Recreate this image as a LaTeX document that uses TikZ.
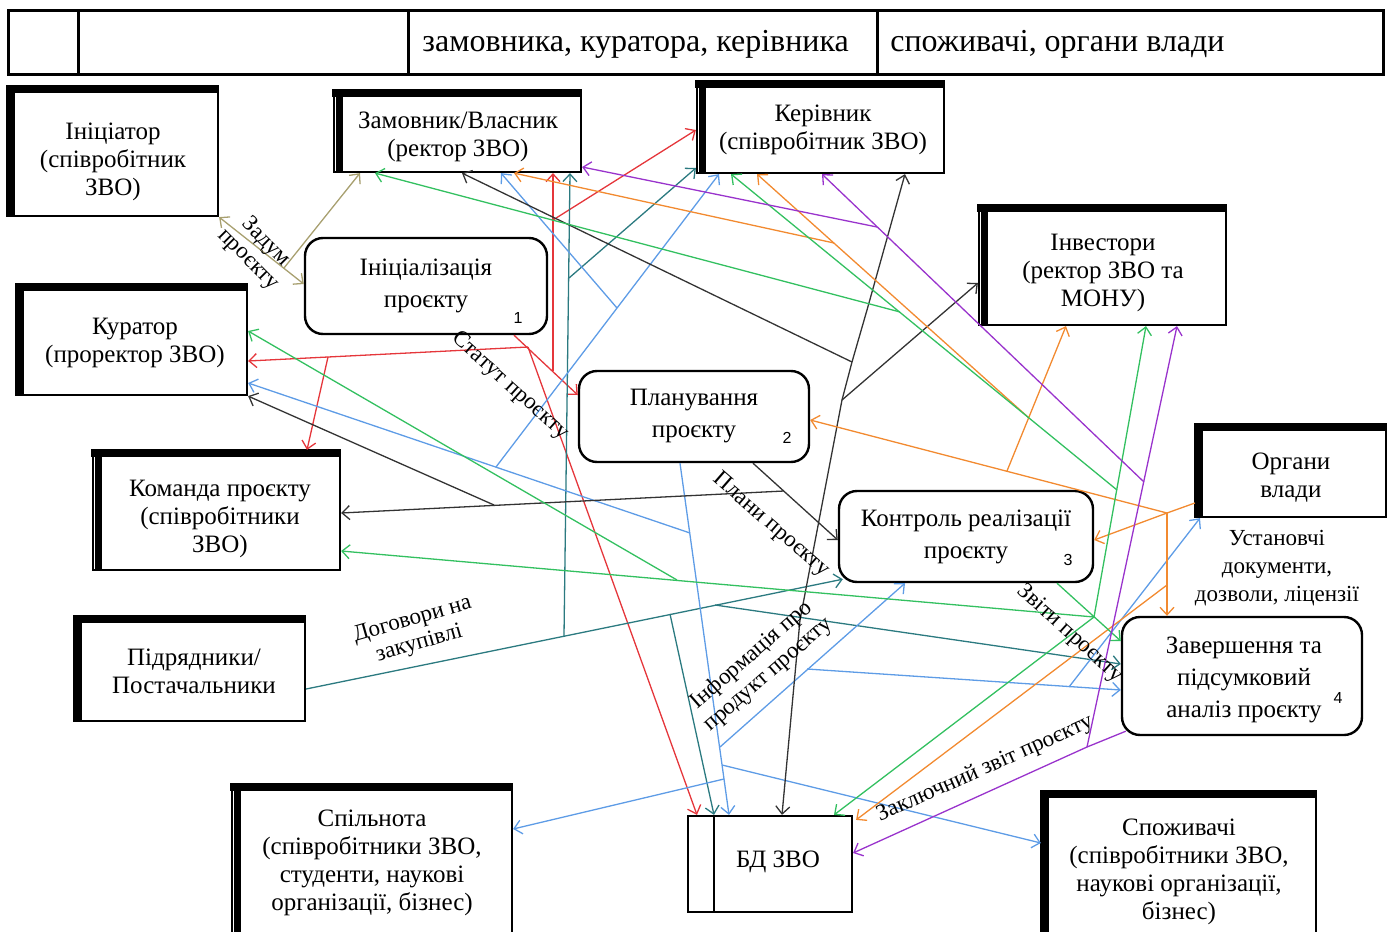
\documentclass[tikz,border=0pt]{standalone}
\usepackage{fontspec}
\setmainfont{Liberation Serif}
\newfontfamily\numfont{Liberation Sans}
\usetikzlibrary{arrows.meta,calc}
\definecolor{cOl}{HTML}{A8A070}
\definecolor{cRd}{HTML}{E5363B}
\definecolor{cTl}{HTML}{2B7A80}
\definecolor{cBl}{HTML}{5E9CE6}
\definecolor{cBk}{HTML}{333333}
\definecolor{cOr}{HTML}{F28A30}
\definecolor{cGr}{HTML}{33C060}
\definecolor{cPu}{HTML}{9933CC}
\newcommand\bxf{\fontsize{12.5}{14}\selectfont}
\newcommand\prf{\fontsize{12.5}{16}\selectfont}
\newcommand\lbf{\fontsize{11.5}{12.5}\selectfont}
% thick top and left bars of an external entity
\newcommand\entbar[1]{%
  \fill ([xshift=-0.5pt,yshift=0.5pt]#1.north west) rectangle ([xshift=4pt]#1.south west);
  \fill ([xshift=-0.5pt,yshift=0.5pt]#1.north west) rectangle ([yshift=-3.5pt]#1.north east);}
\newcommand\entdbar[1]{%
  \fill ([xshift=1.4pt]#1.north west) rectangle ([xshift=4.8pt]#1.south west);
  \fill ([xshift=-0.5pt,yshift=0.5pt]#1.north west) rectangle ([yshift=-3.5pt]#1.north east);}
\tikzset{
  ext/.style={draw, line width=1.1pt, fill=white, inner sep=0pt},
  etx/.style={font=\bxf, align=center, inner sep=0pt},
  proc/.style={draw, line width=1.2pt, rounded corners=9pt, fill=white, inner sep=0pt, align=center, font=\prf},
  num/.style={font=\numfont\fontsize{8}{9}\selectfont, inner sep=0pt},
  lbl/.style={font=\lbf, align=center, inner sep=0pt},
  cn/.style={line width=0.65pt},
  ar/.style={cn, -{Straight Barb[length=3.8pt,width=7pt]}},
  dar/.style={cn, {Straight Barb[length=3.8pt,width=7pt]}-{Straight Barb[length=3.8pt,width=7pt]}},
}
\begin{document}
\begin{tikzpicture}[x=0.5pt,y=-0.5pt]
\useasboundingbox (0,0) rectangle (1394,932);
% top table
\draw[line width=1.5pt] (8,10) rectangle (1383,74);
\draw[line width=1.5pt] (78,10) -- (78,74) (408,10) -- (408,74) (877,10) -- (877,74);
\node[anchor=west, font=\fontsize{16}{18}\selectfont, inner sep=0pt] (t1) at (422,44) {замовника, куратора, керівника};
\node[anchor=west, font=\fontsize{16}{18}\selectfont, inner sep=0pt] (t2) at (890,44) {споживачі, органи влади};

% external entities
\node[ext, minimum width=105pt, minimum height=64.5pt] (ini) at (113,151.5) {};
\node[ext, minimum width=123.5pt, minimum height=40.5pt] (zam) at (457.5,131.5) {};
\node[ext, minimum width=123.5pt, minimum height=45.5pt] (ker) at (820.5,127.5) {};
\node[ext, minimum width=123.5pt, minimum height=59.5pt] (inv) at (1102.5,265.5) {};
\node[ext, minimum width=115pt, minimum height=55pt] (kur) at (132,340) {};
\node[ext, minimum width=123.5pt, minimum height=59.5pt] (kom) at (216.5,510.5) {};
\node[ext, minimum width=115pt, minimum height=52pt] (pid) at (190,669) {};
\node[ext, minimum width=95pt, minimum height=46pt] (org) at (1291,471) {};
\node[ext, minimum width=140pt, minimum height=77.5pt] (spil) at (372,862.5) {};
\node[ext, minimum width=137pt, minimum height=74pt] (spoz) at (1179,866) {};
\entbar{ini} \entdbar{zam} \entdbar{ker} \entdbar{inv} \entbar{kur}
\entdbar{kom} \entbar{pid} \entbar{org} \entdbar{spil} \entbar{spoz}
\node[etx] (iniT) at (113,161.5) {Ініціатор\\(співробітник\\ЗВО)};
\node[etx] (zamT) at (458,137) {Замовник/Власник\\(ректор ЗВО)};
\node[etx] (kerT) at (823,129.5) {Керівник\\(співробітник ЗВО)};
\node[etx] (invT) at (1103,272.5) {Інвестори\\(ректор ЗВО та\\МОНУ)};
\node[etx] (kurT) at (135,343) {Куратор\\(проректор ЗВО)};
\node[etx] (komT) at (220,518.5) {Команда проєкту\\(співробітники\\ЗВО)};
\node[etx] (pidT) at (194,671) {Підрядники/\\Постачальники};
\node[etx] (orgT) at (1291,478) {Органи\\влади};
\node[etx] (spilT) at (372,863) {Спільнота\\(співробітники ЗВО,\\студенти, наукові\\організації, бізнес)};
\node[etx] (spozT) at (1179,872) {Споживачі\\(співробітники ЗВО,\\наукові організації,\\бізнес)};
\node[draw, line width=1.1pt, fill=white, minimum width=82pt, minimum height=48pt, inner sep=0pt] (bd) at (770,864) {};
\draw[line width=1.1pt] (714,0 |- bd.north) -- (714,0 |- bd.south);
\node[etx] (bdT) at (778,862) {БД ЗВО};

% processes
\node[proc, minimum width=121pt, minimum height=48pt] (p1) at (426,286) {Ініціалізація\\проєкту};
\node[proc, minimum width=115pt, minimum height=45.5pt] (p2) at (694,416.5) {Планування\\проєкту};
\node[proc, minimum width=127pt, minimum height=45.5pt] (p3) at (966,536.5) {Контроль реалізації\\проєкту};
\node[proc, minimum width=120pt, minimum height=59pt] (p4) at (1242,676) {};
\node[etx, font=\prf] (p4T) at (1244,680) {Завершення та\\підсумковий\\аналіз проєкту};
\node[num] (n1) at (518,318) {1};
\node[num] (n2) at (787,438) {2};
\node[num] (n3) at (1068,560) {3};
\node[num] (n4) at (1338,698) {4};

% olive
\coordinate (oJ) at (284,268);
\draw[dar, cOl] (ini.south east) -- (p1.west |- 0,284);
\draw[ar, cOl] (oJ) -- (360,0 |- zam.south);

% red
\coordinate (rA) at (514,0 |- p1.south);
\coordinate (rJ1) at (528,347);
\coordinate (rJ2) at (328,357);
\coordinate (rJ3) at (553,371);
\coordinate (rJ4) at (553,220);
\draw[ar, cRd] (rA) -- (p2.west |- 0,395);
\draw[ar, cRd] (rJ1) -- (kur.east |- 0,361);
\draw[ar, cRd] (rJ2) -- (307,0 |- kom.north);
\draw[ar, cRd] (rJ1) -- (697,0 |- bd.north);
\draw[ar, cRd] (rJ3) -- (553,0 |- zam.south);
\draw[ar, cRd] (rJ4) -- (ker.west |- 0,130);

% teal
\coordinate (tA) at (pid.east |- 0,689);
\coordinate (p3c) at ($(p3.south west)+(5,-4)$);
\coordinate (tJ1) at (564,636);
\coordinate (tJ2) at (569,278);
\coordinate (tJ3) at (670,614);
\coordinate (tJ4) at (715,605);
\draw[ar, cTl] (tA) -- (p3c);
\draw[ar, cTl] (tJ1) -- (570,0 |- zam.south);
\draw[ar, cTl] (tJ2) -- (ker.west |- 0,168);
\draw[ar, cTl] (tJ3) -- (714,0 |- bd.north);
\draw[ar, cTl] (tJ4) -- (p4.west |- 0,664);

% blue
\coordinate (bA) at (680,0 |- p2.south);
\coordinate (bJ1) at (690,533);
\coordinate (bJ2) at (496,467);
\coordinate (bJ3) at (617,308);
\coordinate (bJ4) at (720,747);
\coordinate (bJ5) at (807,669);
\coordinate (bJ6) at (1069,687);
\coordinate (bJ7) at (722,765);
\coordinate (bJ8) at (724,779);
\draw[ar, cBl] (bA) -- (729,0 |- bd.north);
\draw[ar, cBl] (bJ1) -- (kur.east |- 0,383);
\draw[ar, cBl] (bJ2) -- (719,0 |- ker.south);
\draw[ar, cBl] (bJ3) -- (501,0 |- zam.south);
\draw[ar, cBl] (bJ4) -- (905,0 |- p3.south);
\draw[ar, cBl] (bJ5) -- (p4.west |- 0,690);
\draw[ar, cBl] (bJ6) -- (1200,0 |- org.south);
\draw[ar, cBl] (bJ7) -- (spoz.west |- 0,843);
\draw[ar, cBl] (bJ8) -- (spil.east |- 0,829);

% black
\coordinate (kA) at (753,0 |- p2.south);
\coordinate (kJ1) at (784,491);
\coordinate (kJ2) at (494,505);
\coordinate (kL1) at (800,620);
\coordinate (kL2) at (842,400);
\coordinate (kL3) at (852,362);
\coordinate (kL4) at (867,310);
\draw[ar, cBk] (kA) -- (p3.west |- 0,540);
\draw[ar, cBk] (kJ1) -- (kom.east |- 0,513);
\draw[ar, cBk] (kJ2) -- (kur.south east);
\draw[dar, cBk] (782,0 |- bd.north) -- (kL1) -- (kL2) -- (kL3) -- (kL4) -- (905,0 |- ker.south);
\draw[ar, cBk] (kL3) -- (462,0 |- zam.south);
\draw[ar, cBk] (kL2) -- (inv.west |- 0,283);

% orange
\coordinate (oA) at (org.west |- 0,503);
\coordinate (oJ1) at (1167,513);
\coordinate (oJ2) at (1167,585);
\coordinate (oJ3) at (1007,471);
\coordinate (oJ4) at (1029,418);
\coordinate (oJ5) at (834,243);
\draw[cn, cOr] (oA) -- (oJ1);
\draw[ar, cOr] (oJ1) -- (p3.east |- 0,540);
\draw[ar, cOr] (oJ1) -- (1167,0 |- p4.north);
\draw[ar, cOr] (oJ2) -- ($(bd.north east)+(3,5)$);
\draw[ar, cOr] (oJ1) -- (p2.east |- 0,420);
\draw[ar, cOr] (oJ3) -- (1066,0 |- inv.south);
\draw[ar, cOr] (oJ4) -- (757,0 |- ker.south);
\draw[ar, cOr] (oJ5) -- (514,0 |- zam.south);

% green
\coordinate (gA) at (1057,0 |- p3.south);
\coordinate (gJ1) at (1094,617);
\coordinate (gJ2) at (1117,490);
\coordinate (gJ3) at (900,312);
\coordinate (gJ4) at (677,580);
\draw[ar, cGr] (gA) -- (p4.west |- 0,641);
\draw[ar, cGr] (gJ1) -- (834,0 |- bd.north);
\draw[ar, cGr] (gJ1) -- (1146,0 |- inv.south);
\draw[ar, cGr] (gJ2) -- (731,0 |- ker.south);
\draw[ar, cGr] (gJ3) -- (375,0 |- zam.south);
\draw[ar, cGr] (gJ1) -- (kom.east |- 0,551);
\draw[ar, cGr] (gJ4) -- (kur.east |- 0,331);

% purple
\coordinate (pA) at ($(p4.south west)+(5,-5)$);
\coordinate (pJ1) at (1087,747);
\coordinate (pJ2) at (1144,482);
\coordinate (pJ3) at (877,227);
\draw[cn, cPu] (pA) -- (pJ1);
\draw[ar, cPu] (pJ1) -- (bd.east |- 0,853);
\draw[ar, cPu] (pJ1) -- (1177,0 |- inv.south);
\draw[ar, cPu] (pJ2) -- (822,0 |- ker.south);
\draw[ar, cPu] (pJ3) -- (zam.east |- 0,167);

% labels
\node[lbl, rotate=-45] (l1) at (257,251) {Задум\\проєкту};
\node[lbl, rotate=-42] (l2) at (510,386) {Статут проєкту};
\node[lbl, rotate=-41] (l3) at (771,525) {Плани проєкту};
\node[lbl, rotate=16] (l4) at (416,632) {Договори на\\закупівлі};
\node[lbl, rotate=41] (l5) at (760,665) {Інформація про\\продукт проєкту};
\node[lbl, rotate=-42] (l6) at (1070,634) {Звіти проєкту};
\node[lbl, rotate=24] (l7) at (985,769) {Заключний звіт проєкту};
\node[lbl, font=\fontsize{11.5}{14}\selectfont] (l8) at (1277,568) {Установчі\\документи,\\дозволи, ліцензії};
\end{tikzpicture}
\end{document}
